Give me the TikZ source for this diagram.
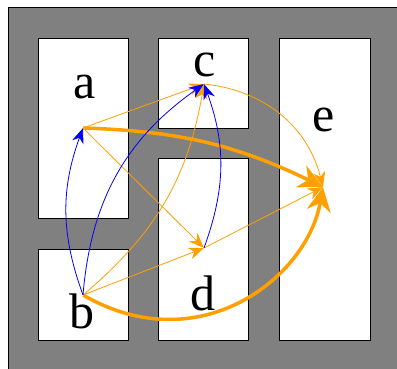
\documentclass[tikz,border=0pt]{standalone}
\usepackage{fontspec}
\setmainfont{Liberation Serif}
\usetikzlibrary{arrows.meta}
\definecolor{flow}{HTML}{FFA000}

\begin{document}
\begin{tikzpicture}[x=1pt,y=1pt,
  room/.style={fill=white,draw=black,line width=0.8pt},
  vert/.style={inner sep=0pt,minimum size=0pt},
  lbl/.style={font=\fontsize{50}{50}\selectfont,inner sep=0pt,anchor=base},
  blueedge/.style={blue,line width=0.8pt,-{Stealth[length=15pt,width=12pt]}},
  flowedge/.style={flow,line width=0.8pt,-{Stealth[length=15pt,width=12pt]}},
  heavyedge/.style={flow,line width=3.5pt,-{Stealth[length=24pt,width=24pt]}}]

\useasboundingbox (0,0) rectangle (397,368);
\filldraw[fill=gray,draw=black,line width=0.8pt] (8,-5) rectangle (405,361);

% rooms
\draw[room] (38,150) rectangle (128,330);
\draw[room] (158,240) rectangle (248,330);
\draw[room] (279,28) rectangle (370,330);
\draw[room] (38,28) rectangle (128,119);
\draw[room] (158,28) rectangle (248,210);

% labels
\node[lbl] (la) at (84.5,270) {a};
\node[lbl] (lc) at (205,292) {c};
\node[lbl] (le) at (324,237) {e};
\node[lbl] (lb) at (82,40) {b};
\node[lbl] (ld) at (203,58) {d};

% vertices
\node[vert] (a) at (83,240) {};
\node[vert] (b) at (83,73) {};
\node[vert] (c) at (204,284) {};
\node[vert] (d) at (204,120) {};
\node[vert] (e) at (323,181) {};

% edges
\draw[flowedge] (a) -- (c);
\draw[flowedge] (a) -- (d);
\draw[flowedge] (b) -- (d);
\draw[flowedge] (d) -- (e);
\draw[flowedge] (b) to[bend right=20] (c);
\draw[flowedge] (c) to[bend left=35] (e);
\draw[heavyedge] (a) to[bend left=12] (e);
\draw[heavyedge] (b) to[out=-30,in=-100,out looseness=1.3,in looseness=0.9] (e);
\draw[blueedge] (b) to[bend left=20] (a);
\draw[blueedge] (b) to[bend left=25] (c);
\draw[blueedge] (d) to[bend right=20] (c);

\end{tikzpicture}
\end{document}
